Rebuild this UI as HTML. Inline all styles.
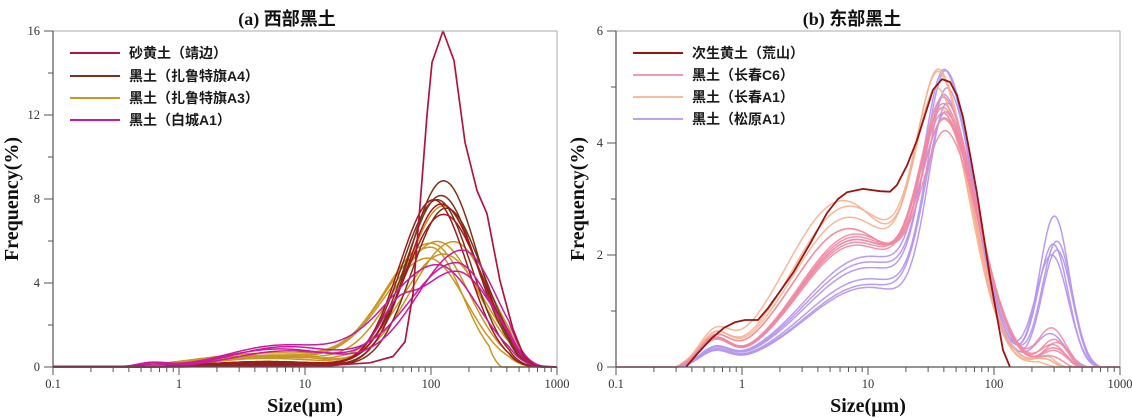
<!DOCTYPE html>
<html><head><meta charset="utf-8">
<style>
html,body{margin:0;padding:0;background:#fff;}
svg{display:block;}
.tk{font-family:"Liberation Serif",serif;font-size:12.5px;fill:#333;}
.ax{font-family:"Liberation Serif",serif;font-weight:bold;font-size:20px;fill:#111;}
.lg{font-family:"Liberation Sans","Noto Sans CJK SC",sans-serif;font-weight:bold;font-size:14px;fill:#1a1a1a;}
.tt{font-weight:bold;font-size:18px;fill:#111;}
</style></head>
<body>
<svg id="s" width="1132" height="418" viewBox="0 0 1132 418" xmlns="http://www.w3.org/2000/svg">
<rect width="1132" height="418" fill="#fff"/>
<!-- titles -->
<text class="tt" x="287" y="25" text-anchor="middle"><tspan font-family="Liberation Serif,serif">(a) </tspan><tspan font-family="Noto Sans CJK SC,sans-serif">西部黑土</tspan></text>
<text class="tt" x="852" y="25" text-anchor="middle"><tspan font-family="Liberation Serif,serif">(b) </tspan><tspan font-family="Noto Sans CJK SC,sans-serif">东部黑土</tspan></text>
<!-- axis titles -->
<text class="ax" transform="translate(18,199) rotate(-90)" text-anchor="middle">Frequency(%)</text>
<text class="ax" transform="translate(584,199) rotate(-90)" text-anchor="middle">Frequency(%)</text>
<text class="ax" x="305" y="412" text-anchor="middle">Size(μm)</text>
<text class="ax" x="868" y="412" text-anchor="middle">Size(μm)</text>
<g id="ticks"></g>
<g id="L"></g>
<g id="R"></g>
<g id="frame"></g>
<!-- legends -->
<g>
<line x1="70" y1="53" x2="120" y2="53" stroke="#b0153f" stroke-width="2"/>
<line x1="70" y1="76" x2="120" y2="76" stroke="#7a3218" stroke-width="2"/>
<line x1="70" y1="98" x2="120" y2="98" stroke="#c9961f" stroke-width="2"/>
<line x1="70" y1="120" x2="120" y2="120" stroke="#c81b9e" stroke-width="2"/>
<text class="lg" x="129" y="58">砂黄土（靖边）</text>
<text class="lg" x="129" y="81">黑土（扎鲁特旗A4）</text>
<text class="lg" x="129" y="103">黑土（扎鲁特旗A3）</text>
<text class="lg" x="129" y="125">黑土（白城A1）</text>
<line x1="633" y1="53" x2="683" y2="53" stroke="#9b1212" stroke-width="2"/>
<line x1="633" y1="75" x2="683" y2="75" stroke="#f29ab0" stroke-width="2"/>
<line x1="633" y1="97" x2="683" y2="97" stroke="#f6be9e" stroke-width="2"/>
<line x1="633" y1="119" x2="683" y2="119" stroke="#bca2f2" stroke-width="2"/>
<text class="lg" x="692" y="58">次生黄土（荒山）</text>
<text class="lg" x="692" y="80">黑土（长春C6）</text>
<text class="lg" x="692" y="102">黑土（长春A1）</text>
<text class="lg" x="692" y="124">黑土（松原A1）</text>
</g>
<!-- tick labels -->
<g class="tk">
<text x="40" y="371" text-anchor="end">0</text>
<text x="40" y="287" text-anchor="end">4</text>
<text x="40" y="203" text-anchor="end">8</text>
<text x="40" y="119" text-anchor="end">12</text>
<text x="40" y="35" text-anchor="end">16</text>
<text x="53" y="388" text-anchor="middle">0.1</text>
<text x="179" y="388" text-anchor="middle">1</text>
<text x="305" y="388" text-anchor="middle">10</text>
<text x="431" y="388" text-anchor="middle">100</text>
<text x="557" y="388" text-anchor="middle">1000</text>
<text x="603" y="371" text-anchor="end">0</text>
<text x="603" y="259" text-anchor="end">2</text>
<text x="603" y="147" text-anchor="end">4</text>
<text x="603" y="35" text-anchor="end">6</text>
<text x="616" y="388" text-anchor="middle">0.1</text>
<text x="742" y="388" text-anchor="middle">1</text>
<text x="868" y="388" text-anchor="middle">10</text>
<text x="994" y="388" text-anchor="middle">100</text>
<text x="1120" y="388" text-anchor="middle">1000</text>
</g>
</svg>
<script>
var NS='http://www.w3.org/2000/svg';
function el(gid,tag,at){var e=document.createElementNS(NS,tag);for(var k in at)e.setAttribute(k,at[k]);document.getElementById(gid).appendChild(e);return e;}
function line(g,x1,y1,x2,y2,c,w){el(g,'line',{x1:x1,y1:y1,x2:x2,y2:y2,stroke:c,'stroke-width':w||1});}
// frames & ticks
[[53,557,[0,4,8,12,16],[2,6,10,14],21],[616,1120,[0,2,4,6],[1,3,5],56]].forEach(function(p){
 var x0=p[0],x1=p[1],ys=p[4];
 line('frame',x0,31,x1,31,'#a8a8a8',1);
 line('frame',x1,31,x1,367,'#a8a8a8',1);
 line('frame',x0,31,x0,367.5,'#555',1.2);
 line('frame',x0,367,x1,367,'#555',1.2);
 p[2].forEach(function(v){var y=367-v*ys;line('frame',x0-9,y,x0,y,'#555',1);});
 p[3].forEach(function(v){var y=367-v*ys;line('frame',x0-5,y,x0,y,'#555',1);});
 for(var d=0;d<4;d++){var bx=x0+126*d;line('frame',bx,367,bx,375,'#555',1);
  for(var m=2;m<=9;m++){var x=bx+126*Math.log10(m);line('frame',x,367,x,372,'#555',1);}}
 line('frame',x1,367,x1,375,'#555',1);
});
function G(L,a,m,sl,sr){var d=L-m,s=d<0?sl:sr;return a*Math.exp(-d*d/(2*s*s));}
function cl(v){return Math.max(0,Math.min(1,v));}
function mk(f,x0,ys,L0,L1){var N=400,d='';for(var i=0;i<=N;i++){var L=L0+(L1-L0)*i/N;var v=Math.max(0,f(L));d+=(i?'L':'M')+(x0+126*(L+1)).toFixed(1)+','+(367-v*ys).toFixed(1);}return d;}
function add(g,d,c,w,op){el(g,'path',{d:d,fill:'none',stroke:c,'stroke-width':w,'stroke-linejoin':'round','stroke-opacity':op||1});}
function pts(a,ys){var d='';a.forEach(function(p,i){d+=(i?'L':'M')+p[0]+','+(367-p[1]*ys).toFixed(1);});return d;}
// LEFT
function lc(p){return function(L){
 var v=(p.b?G(L,p.b,-0.22,0.12,0.12):0)+G(L,p.fa,p.fm,p.fs,p.fs)+G(L,p.ma,p.mm,p.sl,p.sr)+(p.sh?G(L,p.sh,1.72,0.12,0.12):0);
 v-=0.04; v*=cl(((p.end||2.92)-L)/0.3);
 if(p.cut) v*=cl((p.cut-L)/0.1);
 if(p.b) v*=cl((L+0.56)/0.08);
 return v;};}
var gold='#c9961f',brown='#7a3218',dred='#a3191b',mag='#c81b9e';
var golds=[
 {fa:0.6,fm:0.7,fs:0.55,ma:5.9,mm:2.0,sl:0.36,sr:0.30},
 {fa:0.55,fm:0.75,fs:0.5,ma:6.0,mm:2.05,sl:0.34,sr:0.32},
 {fa:0.7,fm:0.7,fs:0.55,ma:5.7,mm:2.0,sl:0.36,sr:0.25,cut:2.56},
 {fa:0.5,fm:0.8,fs:0.5,ma:5.4,mm:2.1,sl:0.33,sr:0.32},
 {fa:0.45,fm:0.7,fs:0.5,ma:6.0,mm:2.18,sl:0.34,sr:0.29},
 {fa:0.6,fm:0.7,fs:0.5,ma:7.7,mm:2.1,sl:0.29,sr:0.28},
 {fa:0.5,fm:0.75,fs:0.5,ma:5.2,mm:1.98,sl:0.36,sr:0.3}];
golds.forEach(function(p){add('L',mk(lc(p),53,21,-1,3),gold,1.5);});
var browns=[
 {fa:0.25,fm:0.7,fs:0.5,ma:8.9,mm:2.1,sl:0.27,sr:0.27},
 {fa:0.3,fm:0.7,fs:0.5,ma:8.2,mm:2.08,sl:0.28,sr:0.28},
 {fa:0.2,fm:0.7,fs:0.5,ma:7.6,mm:2.12,sl:0.27,sr:0.29},
 {fa:0.25,fm:0.7,fs:0.5,ma:8.0,mm:2.05,sl:0.28,sr:0.27}];
browns.forEach(function(p){add('L',mk(lc(p),53,21,-1,3),brown,1.5);});
var dreds=[
 {fa:0.15,fm:0.7,fs:0.5,ma:8.0,mm:2.02,sl:0.27,sr:0.27},
 {fa:0.1,fm:0.7,fs:0.5,ma:7.8,mm:2.08,sl:0.27,sr:0.3},
 {fa:0.3,fm:0.7,fs:0.5,ma:7.3,mm:2.1,sl:0.3,sr:0.3}];
dreds.forEach(function(p){add('L',mk(lc(p),53,21,-1,3),dred,1.5);});
var mags=[
 {b:0.22,fa:1.0,fm:0.85,fs:0.42,ma:5.0,mm:2.2,sl:0.38,sr:0.28},
 {b:0.2,fa:0.9,fm:0.8,fs:0.45,ma:5.6,mm:2.25,sl:0.36,sr:0.27},
 {b:0.15,fa:0.8,fm:0.85,fs:0.42,ma:4.6,mm:2.2,sl:0.38,sr:0.3,sh:1.1},
 {b:0.2,fa:1.05,fm:0.8,fs:0.42,ma:4.9,mm:2.05,sl:0.4,sr:0.32}];
mags.forEach(function(p){add('L',mk(lc(p),53,21,-1,3),mag,1.5);});
add('L',pts([[53,0.03],[250,0.03],[330,0.08],[370,0.2],[393,0.5],[405,1.2],[413,3.5],[422,8.9],[427,12],[432,14.5],[443,16],[454,14.6],[465,10.7],[477,8.4],[487,7.3],[500,4.1],[513,1.8],[524,0.5],[535,0.05],[557,0]],21),'#b0153f',1.7);
// RIGHT
function rc(p){return function(L){
 if(L<-0.54) return 0;
 var v=G(L,p.b,-0.22,0.12,0.12)+G(L,p.fa,p.fm,p.fs,p.fs)+G(L,p.ma,p.mm,p.sl,p.sr)+G(L,p.c,p.cm,p.cs,p.cs);
 v-=0.03; v*=cl((L+0.54)/0.06); v*=cl((p.end-L)/0.15);
 return v;};}
var lav='#b596f0',pink='#f088a3',peach='#f5b08e';
var lavs=[
 {b:0.3,fa:1.8,fm:1.0,fs:0.5,ma:4.5,mm:1.63,sl:0.17,sr:0.22,c:2.7,cm:2.48,cs:0.12,end:2.95},
 {b:0.28,fa:1.6,fm:1.0,fs:0.5,ma:4.3,mm:1.64,sl:0.17,sr:0.22,c:2.2,cm:2.47,cs:0.12,end:2.95},
 {b:0.26,fa:1.5,fm:1.0,fs:0.5,ma:3.9,mm:1.63,sl:0.17,sr:0.22,c:2.1,cm:2.5,cs:0.12,end:2.95},
 {b:0.3,fa:2.0,fm:1.0,fs:0.5,ma:4.4,mm:1.62,sl:0.17,sr:0.22,c:2.0,cm:2.46,cs:0.13,end:2.95},
 {b:0.3,fa:1.9,fm:1.0,fs:0.5,ma:4.0,mm:1.62,sl:0.17,sr:0.24,c:2.25,cm:2.5,cs:0.12,end:2.95},
 {b:0.25,fa:1.45,fm:1.0,fs:0.5,ma:4.1,mm:1.64,sl:0.16,sr:0.22,c:0.6,cm:2.45,cs:0.12,end:2.95}];
lavs.forEach(function(p){add('R',mk(rc(p),616,56,-1,3),lav,1.5,0.95);});
var peaches=[
 {b:0.5,fa:2.7,fm:0.85,fs:0.45,ma:4.6,mm:1.58,sl:0.19,sr:0.25,c:0.15,cm:2.4,cs:0.1,end:2.6},
 {b:0.48,fa:2.9,fm:0.85,fs:0.45,ma:4.5,mm:1.58,sl:0.19,sr:0.24,c:0.1,cm:2.4,cs:0.1,end:2.5},
 {b:0.5,fa:3.0,fm:0.8,fs:0.45,ma:4.3,mm:1.57,sl:0.19,sr:0.25,c:0.2,cm:2.42,cs:0.1,end:2.6},
 {b:0.45,fa:2.5,fm:0.85,fs:0.45,ma:4.0,mm:1.6,sl:0.19,sr:0.25,c:0.15,cm:2.4,cs:0.1,end:2.6}];
peaches.forEach(function(p){add('R',mk(rc(p),616,56,-1,3),peach,1.5,0.9);});
var pinks=[
 {b:0.45,fa:2.3,fm:0.9,fs:0.45,ma:4.0,mm:1.62,sl:0.2,sr:0.26,c:0.35,cm:2.48,cs:0.1,end:2.75},
 {b:0.45,fa:2.35,fm:0.9,fs:0.45,ma:3.8,mm:1.63,sl:0.2,sr:0.26,c:0.5,cm:2.48,cs:0.1,end:2.75},
 {b:0.42,fa:2.25,fm:0.9,fs:0.45,ma:4.2,mm:1.62,sl:0.2,sr:0.26,c:0.7,cm:2.46,cs:0.11,end:2.78},
 {b:0.45,fa:2.4,fm:0.9,fs:0.45,ma:3.6,mm:1.64,sl:0.2,sr:0.26,c:0.3,cm:2.48,cs:0.1,end:2.75},
 {b:0.44,fa:2.2,fm:0.9,fs:0.45,ma:4.1,mm:1.62,sl:0.2,sr:0.26,c:0.45,cm:2.5,cs:0.1,end:2.75},
 {b:0.46,fa:2.5,fm:0.85,fs:0.45,ma:3.9,mm:1.63,sl:0.2,sr:0.26,c:0.2,cm:2.45,cs:0.1,end:2.7},
 {b:0.45,fa:2.3,fm:0.9,fs:0.45,ma:3.9,mm:1.62,sl:0.2,sr:0.27,c:0.4,cm:2.47,cs:0.1,end:2.75}];
pinks.forEach(function(p){add('R',mk(rc(p),616,56,-1,3),pink,1.5,0.9);});
add('R',pts([[686,0],[698,0.25],[712,0.52],[724,0.7],[735,0.8],[745,0.84],[758,0.84],[768,1.05],[780,1.35],[793,1.68],[810,2.2],[827,2.75],[838,3.0],[847,3.12],[863,3.18],[880,3.14],[890,3.13],[897,3.25],[907,3.6],[917,4.05],[925,4.5],[933,4.95],[942,5.14],[950,5.09],[957,4.85],[963,4.46],[970,3.8],[977,3.1],[984,2.3],[990,1.6],[997,0.9],[1003,0.3],[1010,0]],56),'#9b1212',1.8);
</script>
</body></html>
